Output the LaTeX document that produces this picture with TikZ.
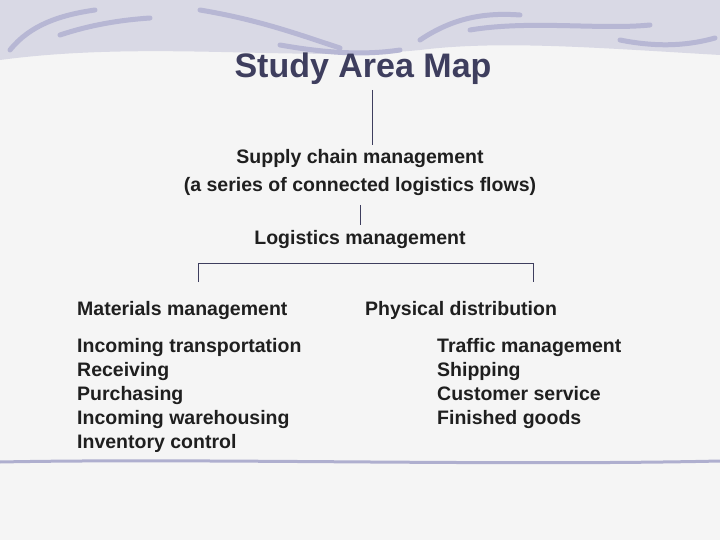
\documentclass[tikz,border=0pt]{standalone}
\usepackage{fontspec}
\setmainfont{Liberation Sans}
\definecolor{titlec}{HTML}{3E3E5E}
\begin{document}
\begin{tikzpicture}[x=1pt,y=-1pt,
  txt/.style={font=\bfseries\fontsize{19.5}{24}\selectfont,text=black!88,inner sep=0pt},
  lst/.style={txt,anchor=west,align=left},
  conn/.style={draw=titlec,line width=1pt},
  brush/.style={draw=blue!25!gray!45,line width=5pt,line cap=round}]
\fill[black!4] (0,0) rectangle (720,540);
\useasboundingbox (0,0) rectangle (720,540);
% decorative brush strokes
\fill[blue!20!gray!25] (0,0) -- (720,0) -- (720,55) .. controls (600,48) and (500,40) .. (420,50) .. controls (300,62) and (150,40) .. (0,60) -- cycle;
\draw[brush] (10,50) .. controls (30,25) and (60,15) .. (95,10);
\draw[brush] (60,35) .. controls (90,25) and (120,20) .. (150,18);
\draw[brush] (200,10) .. controls (260,20) and (300,35) .. (340,48);
\draw[brush] (280,45) .. controls (320,52) and (360,56) .. (400,50);
\draw[brush] (420,40) .. controls (450,20) and (480,12) .. (520,15);
\draw[brush] (470,30) .. controls (530,20) and (600,30) .. (650,25);
\draw[brush] (620,40) .. controls (660,48) and (690,45) .. (715,38);
\draw[blue!25!gray!50,line width=3pt,line cap=round] (0,462) .. controls (200,458) and (500,466) .. (720,461);
% nodes
\node[font=\bfseries\fontsize{34}{40}\selectfont,text=titlec,inner sep=0pt] (title) at (363,69) {Study Area Map};
\node[txt,align=center] (scm) at (360,173) {Supply chain management\\[4pt](a series of connected logistics flows)};
\node[txt] (lm) at (360,240) {Logistics management};
\coordinate (t1) at (372,90);
\coordinate (l) at (198,263);
\coordinate (r) at (533,263);
\node[lst,anchor=base west] (mm) at (77,315) {Materials management};
\node[lst,anchor=base west] (pd) at (365,315) {Physical distribution};
\node[lst,anchor=north west] (ml) at (77,338) {Incoming transportation\\Receiving\\Purchasing\\Incoming warehousing\\Inventory control};
\node[lst,anchor=north west] (pl) at (437,338) {Traffic management\\Shipping\\Customer service\\Finished goods};
\draw[conn] (t1) -- (372,145);
\draw[conn] (360,205) -- (360,225);
\draw[conn] (198,282) -- (l) -- (r) -- (533,282);
\end{tikzpicture}
\end{document}
